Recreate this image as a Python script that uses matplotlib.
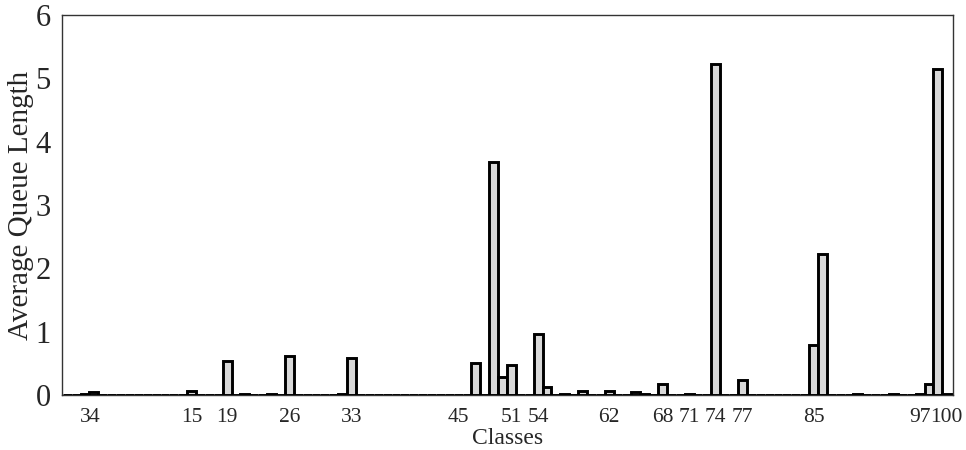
import matplotlib
matplotlib.use("Agg")
import matplotlib.pyplot as plt

# Classes 1..100; only non-zero average queue lengths listed
all_classes = list(range(1, 101))
nz_classes = [3, 4, 15, 19, 21, 24, 26, 32, 33, 47, 49, 50, 51, 54, 55, 57, 59,
              62, 65, 66, 68, 71, 74, 77, 85, 86, 90, 94, 97, 98, 99, 100]
nz_values = [0.02, 0.04, 0.07, 0.53, 0.01, 0.01, 0.62, 0.01, 0.58, 0.51, 3.68,
             0.29, 0.48, 0.96, 0.13, 0.02, 0.07, 0.07, 0.055, 0.02, 0.17, 0.02,
             5.22, 0.24, 0.79, 2.22, 0.01, 0.02, 0.02, 0.17, 5.14, 0.01]
tick_classes = [3, 4, 15, 19, 26, 33, 45, 51, 54, 62, 68, 71, 74, 77, 85, 97, 100]
y_ticks = [0, 1, 2, 3, 4, 5, 6]

value_map = dict(zip(nz_classes, nz_values))
queue = [value_map.get(c, 0.0) for c in all_classes]

plt.rcParams['font.family'] = ['Liberation Serif', 'DejaVu Serif']
text_color = '#262626'

fig = plt.figure(figsize=(9.66, 4.5), dpi=100)
ax = fig.add_axes([0.0639, 0.1222, 0.9230, 0.8445])

ax.bar(all_classes, queue, width=1.0, color='#d9d9d9', edgecolor='black',
       linewidth=2.1, zorder=3)

ax.set_xlim(0.38, 100.74)
ax.set_ylim(0, 6)
ax.set_xticks(tick_classes)
ax.set_xticklabels([str(t) for t in tick_classes], fontsize=15.5, color=text_color)
ax.set_yticks(y_ticks)
ax.set_yticklabels([str(t) for t in y_ticks], fontsize=22, color=text_color)
ax.tick_params(axis='x', length=0, pad=9)
ax.tick_params(axis='y', length=0, pad=8)

for s in ax.spines.values():
    s.set_color('#333333')
    s.set_linewidth(1.0)

ax.set_xlabel('Classes', fontsize=17, color=text_color, labelpad=1)
ax.set_ylabel('Average Queue Length', fontsize=21, color=text_color, labelpad=1)

fig.savefig('out.png', dpi=100)
